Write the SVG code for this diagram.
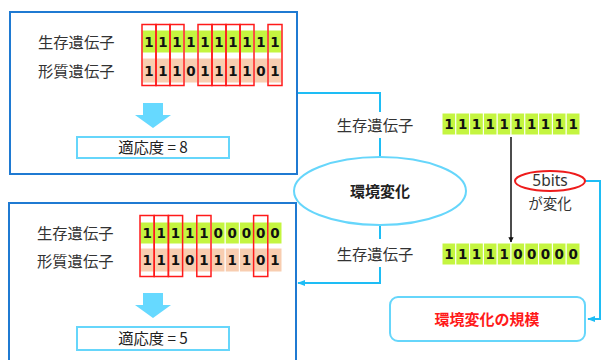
<svg xmlns="http://www.w3.org/2000/svg" width="610" height="360" viewBox="0 0 610 360">
<defs>
<style>
.jp{font-family:"Noto Sans CJK JP","Noto Sans",sans-serif;font-size:15.3px;fill:#333}
.bit{font-family:"DejaVu Sans",Verdana,sans-serif;font-weight:bold;font-size:13.5px;fill:#111;text-anchor:middle}
.g{fill:#c4f540;stroke:#fff;stroke-width:1}
.p{fill:#f8cdb0;stroke:#fff;stroke-width:1}
.r{fill:none;stroke:#ff1a1a;stroke-width:1.5}
.panel{fill:#fff;stroke:#1f7ad2;stroke-width:2}
.fit{fill:#fff;stroke:#66d6fb;stroke-width:2}
.conn{fill:none;stroke:#1ebdf5;stroke-width:2}
.darr{fill:#66d9ff}
</style>
<marker id="ah" viewBox="0 0 10 10" refX="9" refY="5" markerWidth="4" markerHeight="4" orient="auto"><path d="M0,1 L10,5 L0,9 Z" fill="#1ebdf5"/></marker>
<marker id="bh" viewBox="0 0 10 10" refX="9" refY="5" markerWidth="3.5" markerHeight="5" orient="auto"><path d="M0,0 L10,5 L0,10 Z" fill="#111"/></marker>
</defs>
<rect width="610" height="360" fill="#fff"/>

<g id="connectors">
<polyline class="conn" points="297,93 380,93 380,157"/>
<polyline class="conn" points="380,225 380,283 298,283" marker-end="url(#ah)"/>
<polyline class="conn" points="585,181 600,181 600,319 588,319" marker-end="url(#ah)"/>
<line x1="511" y1="137" x2="511" y2="242" stroke="#111" stroke-width="1.5" marker-end="url(#bh)"/>
</g>

<g id="panel-top">
<rect class="panel" x="10" y="12" width="287" height="162"/>
<text class="jp" x="38" y="48">生存遺伝子</text>
<text class="jp" x="38" y="76.5">形質遺伝子</text>
<g>
<rect class="g" x="142" y="30" width="14" height="23"/><rect class="g" x="156" y="30" width="14" height="23"/><rect class="g" x="170" y="30" width="14" height="23"/><rect class="g" x="184" y="30" width="14" height="23"/><rect class="g" x="198" y="30" width="14" height="23"/><rect class="g" x="212" y="30" width="14" height="23"/><rect class="g" x="226" y="30" width="14" height="23"/><rect class="g" x="240" y="30" width="14" height="23"/><rect class="g" x="254" y="30" width="14" height="23"/><rect class="g" x="268" y="30" width="14" height="23"/>
<rect class="p" x="142" y="58" width="14" height="25"/><rect class="p" x="156" y="58" width="14" height="25"/><rect class="p" x="170" y="58" width="14" height="25"/><rect class="p" x="184" y="58" width="14" height="25"/><rect class="p" x="198" y="58" width="14" height="25"/><rect class="p" x="212" y="58" width="14" height="25"/><rect class="p" x="226" y="58" width="14" height="25"/><rect class="p" x="240" y="58" width="14" height="25"/><rect class="p" x="254" y="58" width="14" height="25"/><rect class="p" x="268" y="58" width="14" height="25"/>
<text class="bit" y="47"><tspan x="149">1</tspan><tspan x="163">1</tspan><tspan x="177">1</tspan><tspan x="191">1</tspan><tspan x="205">1</tspan><tspan x="219">1</tspan><tspan x="233">1</tspan><tspan x="247">1</tspan><tspan x="261">1</tspan><tspan x="275">1</tspan></text>
<text class="bit" y="75.5"><tspan x="149">1</tspan><tspan x="163">1</tspan><tspan x="177">1</tspan><tspan x="191">0</tspan><tspan x="205">1</tspan><tspan x="219">1</tspan><tspan x="233">1</tspan><tspan x="247">1</tspan><tspan x="261">0</tspan><tspan x="275">1</tspan></text>
<rect class="r" x="142" y="24.5" width="14" height="61"/><rect class="r" x="156" y="24.5" width="14" height="61"/><rect class="r" x="170" y="24.5" width="14" height="61"/><rect class="r" x="198" y="24.5" width="14" height="61"/><rect class="r" x="212" y="24.5" width="14" height="61"/><rect class="r" x="226" y="24.5" width="14" height="61"/><rect class="r" x="240" y="24.5" width="14" height="61"/><rect class="r" x="268" y="24.5" width="14" height="61"/>
</g>
<path class="darr" d="M143,103 H163 V115 H171 L153,128 L135,115 H143 Z"/>
<rect class="fit" x="77" y="137" width="152" height="21"/>
<text class="jp" x="153" y="153" text-anchor="middle" style="fill:#222">適応度 = 8</text>
</g>

<g id="panel-bottom">
<rect class="panel" x="9" y="203" width="287" height="170"/>
<text class="jp" x="37" y="238.5">生存遺伝子</text>
<text class="jp" x="37" y="266.5">形質遺伝子</text>
<g>
<rect class="g" x="140" y="222" width="14.2" height="22"/><rect class="g" x="154.2" y="222" width="14.2" height="22"/><rect class="g" x="168.4" y="222" width="14.2" height="22"/><rect class="g" x="182.6" y="222" width="14.2" height="22"/><rect class="g" x="196.8" y="222" width="14.2" height="22"/><rect class="g" x="211" y="222" width="14.2" height="22"/><rect class="g" x="225.2" y="222" width="14.2" height="22"/><rect class="g" x="239.4" y="222" width="14.2" height="22"/><rect class="g" x="253.6" y="222" width="14.2" height="22"/><rect class="g" x="267.8" y="222" width="14.2" height="22"/>
<rect class="p" x="140" y="248" width="14.2" height="24"/><rect class="p" x="154.2" y="248" width="14.2" height="24"/><rect class="p" x="168.4" y="248" width="14.2" height="24"/><rect class="p" x="182.6" y="248" width="14.2" height="24"/><rect class="p" x="196.8" y="248" width="14.2" height="24"/><rect class="p" x="211" y="248" width="14.2" height="24"/><rect class="p" x="225.2" y="248" width="14.2" height="24"/><rect class="p" x="239.4" y="248" width="14.2" height="24"/><rect class="p" x="253.6" y="248" width="14.2" height="24"/><rect class="p" x="267.8" y="248" width="14.2" height="24"/>
<text class="bit" y="238"><tspan x="147.1">1</tspan><tspan x="161.3">1</tspan><tspan x="175.5">1</tspan><tspan x="189.7">1</tspan><tspan x="203.9">1</tspan><tspan x="218.1">0</tspan><tspan x="232.3">0</tspan><tspan x="246.5">0</tspan><tspan x="260.7">0</tspan><tspan x="274.9">0</tspan></text>
<text class="bit" y="265"><tspan x="147.1">1</tspan><tspan x="161.3">1</tspan><tspan x="175.5">1</tspan><tspan x="189.7">0</tspan><tspan x="203.9">1</tspan><tspan x="218.1">1</tspan><tspan x="232.3">1</tspan><tspan x="246.5">1</tspan><tspan x="260.7">0</tspan><tspan x="274.9">1</tspan></text>
<rect class="r" x="140" y="215.5" width="14.2" height="61"/><rect class="r" x="154.2" y="215.5" width="14.2" height="61"/><rect class="r" x="168.4" y="215.5" width="14.2" height="61"/><rect class="r" x="196.8" y="215.5" width="14.2" height="61"/><rect class="r" x="253.6" y="215.5" width="14.2" height="61"/>
</g>
<path class="darr" d="M143,293 H163 V305 H171 L153,318 L135,305 H143 Z"/>
<rect class="fit" x="77" y="327" width="152" height="23"/>
<text class="jp" x="153" y="344" text-anchor="middle" style="fill:#222">適応度 = 5</text>
</g>

<g id="label-top">
<rect x="333" y="112" width="94" height="26" fill="#fff"/>
<text class="jp" x="375" y="130.5" text-anchor="middle">生存遺伝子</text>
</g>
<g id="label-bottom">
<rect x="333" y="239" width="94" height="28" fill="#fff"/>
<text class="jp" x="375" y="259.5" text-anchor="middle">生存遺伝子</text>
</g>

<g id="env-change">
<ellipse cx="380" cy="191" rx="86" ry="34" fill="#fff" stroke="#66d6fb" stroke-width="2"/>
<text x="380" y="196.5" text-anchor="middle" style="font-family:'Noto Sans CJK JP',sans-serif;font-weight:bold;font-size:15px;fill:#222">環境変化</text>
</g>

<g id="genes-top">
<g>
<rect class="g" x="442" y="113" width="13.8" height="22"/><rect class="g" x="455.8" y="113" width="13.8" height="22"/><rect class="g" x="469.6" y="113" width="13.8" height="22"/><rect class="g" x="483.4" y="113" width="13.8" height="22"/><rect class="g" x="497.2" y="113" width="13.8" height="22"/><rect class="g" x="511" y="113" width="13.8" height="22"/><rect class="g" x="524.8" y="113" width="13.8" height="22"/><rect class="g" x="538.6" y="113" width="13.8" height="22"/><rect class="g" x="552.4" y="113" width="13.8" height="22"/><rect class="g" x="566.2" y="113" width="13.8" height="22"/>
</g>
<text class="bit" y="129"><tspan x="448.9">1</tspan><tspan x="462.7">1</tspan><tspan x="476.5">1</tspan><tspan x="490.3">1</tspan><tspan x="504.1">1</tspan><tspan x="517.9">1</tspan><tspan x="531.7">1</tspan><tspan x="545.5">1</tspan><tspan x="559.3">1</tspan><tspan x="573.1">1</tspan></text>
</g>

<g id="genes-bottom">
<g>
<rect class="g" x="442" y="243" width="13.8" height="22"/><rect class="g" x="455.8" y="243" width="13.8" height="22"/><rect class="g" x="469.6" y="243" width="13.8" height="22"/><rect class="g" x="483.4" y="243" width="13.8" height="22"/><rect class="g" x="497.2" y="243" width="13.8" height="22"/><rect class="g" x="511" y="243" width="13.8" height="22"/><rect class="g" x="524.8" y="243" width="13.8" height="22"/><rect class="g" x="538.6" y="243" width="13.8" height="22"/><rect class="g" x="552.4" y="243" width="13.8" height="22"/><rect class="g" x="566.2" y="243" width="13.8" height="22"/>
</g>
<text class="bit" y="259"><tspan x="448.9">1</tspan><tspan x="462.7">1</tspan><tspan x="476.5">1</tspan><tspan x="490.3">1</tspan><tspan x="504.1">1</tspan><tspan x="517.9">0</tspan><tspan x="531.7">0</tspan><tspan x="545.5">0</tspan><tspan x="559.3">0</tspan><tspan x="573.1">0</tspan></text>
</g>

<g id="bits-label">
<ellipse cx="550" cy="181" rx="35" ry="10" fill="#fff" stroke="#ee1c1c" stroke-width="2"/>
<text x="550" y="186" text-anchor="middle" style="font-family:'Noto Sans','Noto Sans CJK JP',sans-serif;font-size:15.5px;fill:#333">5bits</text>
<text class="jp" x="550" y="209" text-anchor="middle" style="font-size:14.5px">が変化</text>
</g>

<g id="scale-box">
<rect x="390" y="297" width="195" height="44" rx="8" ry="8" fill="#fff" stroke="#66d6fb" stroke-width="2"/>
<text x="487" y="325" text-anchor="middle" style="font-family:'Noto Sans CJK JP',sans-serif;font-weight:bold;font-size:15px;fill:#ff1a1a">環境変化の規模</text>
</g>
</svg>
